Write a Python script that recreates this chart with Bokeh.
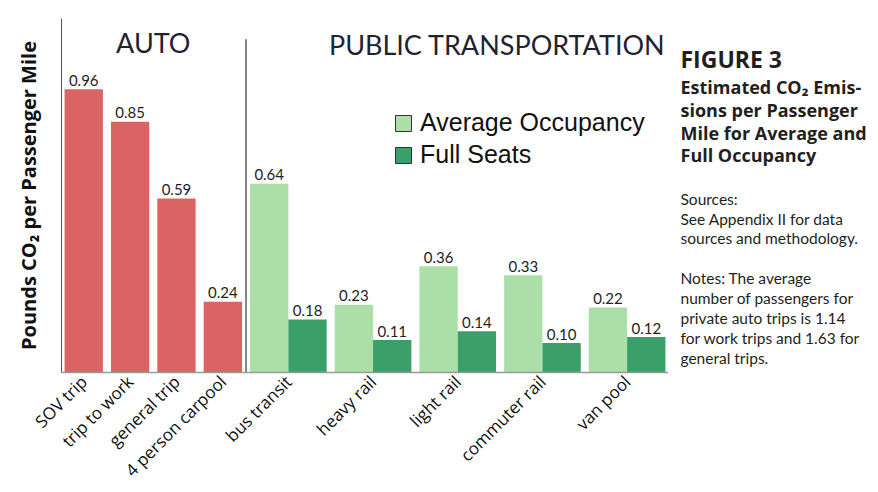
import math
from bokeh.plotting import figure
from bokeh.layouts import row
from bokeh.models import (ColumnDataSource, FactorRange,
                          FixedTicker, Legend, LegendItem)
from bokeh.core.properties import value
from bokeh.embed import file_html
from bokeh.resources import INLINE

# ---------------- data ----------------
auto_cats = ["SOV trip", "trip to work", "general trip", "4 person carpool"]
auto_vals = [0.96, 0.85, 0.59, 0.24]
transit_cats = ["bus transit", "heavy rail", "light rail", "commuter rail", "van pool"]
avg_vals = [0.64, 0.23, 0.36, 0.33, 0.22]
full_vals = [0.18, 0.11, 0.14, 0.10, 0.12]
series_names = ["Average Occupancy", "Full Seats"]
group_titles = ["AUTO", "PUBLIC TRANSPORTATION"]
y_title = "Pounds CO₂ per Passenger Mile"
fig_title = "FIGURE 3"
caption_lines = ["Estimated CO₂ Emis-", "sions per Passenger",
                 "Mile for Average and", "Full Occupancy"]
source_lines = ["Sources:", "See Appendix II for data", "sources and methodology."]
note_lines = ["Notes: The average", "number of passengers for",
              "private auto trips is 1.14", "for work trips and 1.63 for",
              "general trips."]

# ---------------- style / layout ----------------
RED = "#da6464"
LIGHT = "#acdea8"
DARK = "#3a9f68"
FONT = "Lato"
FONT2 = "Open Sans"
TXT = "#231f20"

W, H = 878, 492
FRAME_L, FRAME_R, FRAME_T, BASE = 61, 668, 18, 372
Y_END = 1.2
PX_PER_UNIT = (BASE - FRAME_T) / Y_END
MID = 0.35          # em offset from text middle to baseline

factors = [(c, "") for c in auto_cats] + \
          [(c, s) for c in transit_cats for s in ("avg", "full")]
x_range = FactorRange(factors=factors, group_padding=0.21, factor_padding=0.0,
                      range_padding=0.08, range_padding_units="absolute")

p = figure(x_range=x_range, y_range=(0, Y_END), width=FRAME_R, height=H, title=None,
           output_backend="svg", toolbar_location=None,
           min_border_left=FRAME_L, min_border_right=0,
           min_border_top=FRAME_T, min_border_bottom=H - BASE)
p.outline_line_color = None
p.xgrid.visible = False
p.ygrid.visible = False

fmt = lambda v: f"{v:.2f}"
auto_src = ColumnDataSource(dict(x=[(c, "") for c in auto_cats], top=auto_vals,
                                 label=[fmt(v) for v in auto_vals]))
avg_src = ColumnDataSource(dict(x=[(c, "avg") for c in transit_cats], top=avg_vals,
                                label=[fmt(v) for v in avg_vals]))
full_src = ColumnDataSource(dict(x=[(c, "full") for c in transit_cats], top=full_vals,
                                 label=[fmt(v) for v in full_vals]))

for src, col in ((auto_src, RED), (avg_src, LIGHT), (full_src, DARK)):
    p.vbar(x="x", top="top", width=1.0, source=src, fill_color=col, line_color=None)
    p.text(x="x", y="top", text="label", source=src, text_align="center",
           text_baseline="middle", y_offset=-9, text_font=value(FONT),
           text_font_size="15px", text_color=TXT)

# divider between AUTO and PUBLIC TRANSPORTATION
p.segment(x0=[(auto_cats[-1], "", 0.605)], y0=[0], x1=[(auto_cats[-1], "", 0.605)],
          y1=[1.13], line_color="#333333", line_width=1.2)

# legend proxies (hidden copies of the transit bars, outlined swatches)
leg_avg = p.vbar(x="x", top="top", width=1.0, source=avg_src, fill_color=LIGHT,
                 line_color="#333333", line_width=1, visible=False)
leg_full = p.vbar(x="x", top="top", width=1.0, source=full_src, fill_color=DARK,
                  line_color="#333333", line_width=1, visible=False)
legend = Legend(items=[LegendItem(label=series_names[0], renderers=[leg_avg]),
                       LegendItem(label=series_names[1], renderers=[leg_full])],
                location=(332, 203), glyph_width=20, glyph_height=20,
                label_text_font="Liberation Sans", label_text_font_size="25px",
                label_text_color="#111111", label_standoff=7, spacing=3,
                padding=0, margin=0, border_line_color=None,
                background_fill_alpha=0)
p.add_layout(legend)

# y axis: only the line and its title
p.yaxis.ticker = FixedTicker(ticks=[])
p.yaxis.major_tick_line_color = None
p.yaxis.minor_tick_line_color = None
p.yaxis.major_label_text_font_size = "0px"
p.yaxis.major_label_standoff = 0
p.yaxis.axis_line_color = "#555555"
p.yaxis.axis_label = y_title
p.yaxis.axis_label_text_font = FONT2
p.yaxis.axis_label_text_font_style = "bold"
p.yaxis.axis_label_text_font_size = "20px"
p.yaxis.axis_label_text_color = "#111111"
p.yaxis.axis_label_standoff = 20

# x axis: baseline + rotated category names
p.xaxis.major_label_text_font_size = "0px"
p.xaxis.major_label_standoff = 0
p.xaxis.major_tick_line_color = None
p.xaxis.minor_tick_line_color = None
p.xaxis.axis_line_color = "#9a9a9a"
p.xaxis.axis_line_width = 1.5
p.xaxis.separator_line_color = None
p.xaxis.group_label_orientation = math.pi / 4
p.xaxis.group_text_font = FONT2
p.xaxis.group_text_font_size = "17px"
p.xaxis.group_text_font_style = "normal"
p.xaxis.group_text_color = "#111111"

# group headers (text middles placed from their page baselines 51 / 53 px)
HEAD = 27
head_src = ColumnDataSource(dict(
    x=[(auto_cats[1], "", 0.605), (transit_cats[2], "full", 0.53)],
    y=[(BASE - (51 - MID * HEAD)) / PX_PER_UNIT, (BASE - (53 - MID * HEAD)) / PX_PER_UNIT],
    text=group_titles))
p.text(x="x", y="y", text="text", source=head_src, text_align="center",
       text_baseline="middle", text_font=value(FONT), text_font_size=f"{HEAD}px",
       text_color="#1f2433")

# ---------------- right-hand caption panel ----------------
# same borders as the chart so that the frames line up; y in page pixels
RW = W - FRAME_R
q = figure(width=RW, height=H, x_range=(0, RW), y_range=(BASE, FRAME_T), title=None,
           output_backend="svg", toolbar_location=None,
           x_axis_location=None, y_axis_location=None,
           min_border_left=0, min_border_right=0,
           min_border_top=FRAME_T, min_border_bottom=H - BASE)
q.outline_line_color = None
q.xgrid.visible = False
q.ygrid.visible = False
RX = 12


def block(lines, first_baseline, step, size, font, bold=False):
    ys = [first_baseline + i * step - MID * size for i in range(len(lines))]
    q.text(x=[RX] * len(lines), y=ys, text=lines, text_align="left",
           text_baseline="middle", text_font=value(font),
           text_font_style="bold" if bold else "normal",
           text_font_size=f"{size}px", text_color=TXT)


block([fig_title], 67, 0, 23, FONT2, True)
block(caption_lines, 93, 22.7, 18, FONT2, True)
block(source_lines, 204, 19.5, 15.5, FONT)
block(note_lines, 283, 20, 15.5, FONT)

open("out.html", "w").write(file_html(row(p, q), INLINE))
